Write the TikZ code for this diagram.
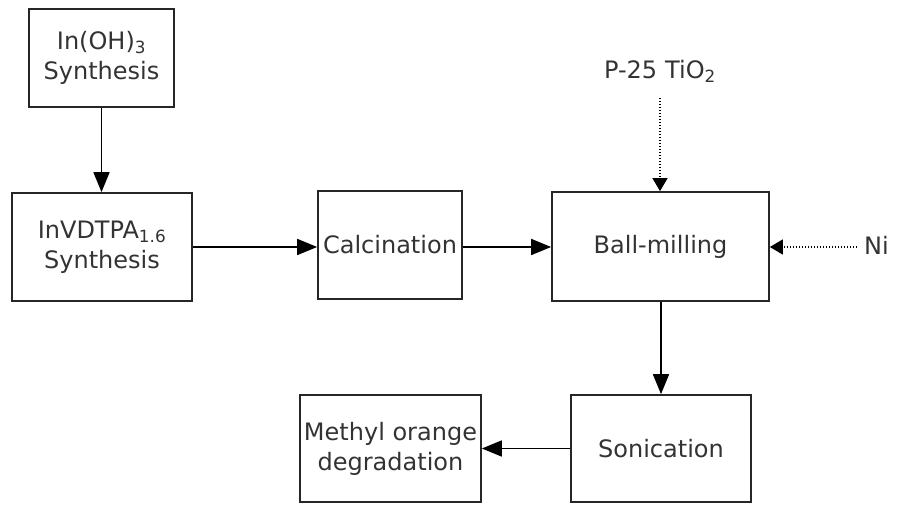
\documentclass[tikz,border=0pt]{standalone}
\usepackage{fontspec}
\setmainfont{DejaVu Sans}
\usetikzlibrary{arrows.meta,calc}
\begin{document}
\begin{tikzpicture}[x=1pt,y=1pt,
  box/.style={draw=black!85,line width=1.7pt,inner sep=0pt,align=center,text=black!80,
    font=\fontsize{24}{30}\selectfont},
  flow/.style={line width=1.7pt,-{Triangle[length=20pt,width=16pt]}},
  feed/.style={line width=1.3pt,dash pattern=on 1.5pt off 1.5pt,-{Triangle[length=13pt,width=15pt]}},
  lbl/.style={text=black!80,font=\fontsize{24}{30}\selectfont,inner sep=0pt}]
\useasboundingbox (0,0) rectangle (897,504);
\node[box,minimum width=145pt,minimum height=98pt] (b1) at (101.5,446) {In(OH)\textsubscript{3}\\Synthesis};
\node[box,minimum width=180pt,minimum height=108pt] (b2) at (102,257) {InVDTPA\textsubscript{1.6}\\Synthesis};
\node[box,minimum width=144pt,minimum height=108pt] (calc) at (390,259) {Calcination};
\node[box,minimum width=217pt,minimum height=109pt] (ball) at (660.5,257.5) {Ball-milling};
\node[box,minimum width=180pt,minimum height=107pt] (son) at (661,55.5) {Sonication};
\node[box,minimum width=181pt,minimum height=107pt] (meth) at (390.5,55.5) {Methyl orange\\degradation};
\node[lbl] (tio) at (660,433) {P-25\,\,TiO\textsubscript{2}};
\node[lbl,anchor=west] (ni) at (864,259) {Ni};
\coordinate (tiostart) at (660,406);
\coordinate (nistart) at (857,257);
\draw[flow] (b1.south) -- (b2.north -| b1.south);
\draw[flow] (b2.east) -- (b2.east -| calc.west);
\draw[flow] (calc.east |- b2.east) -- (b2.east -| ball.west);
\draw[flow] (ball.south -| son.north) -- (son.north);
\draw[flow] (son.west) -- (son.west -| meth.east);
\draw[feed] (tiostart) -- (tiostart |- ball.north);
\draw[feed] (nistart) -- (nistart -| ball.east);
\end{tikzpicture}
\end{document}
